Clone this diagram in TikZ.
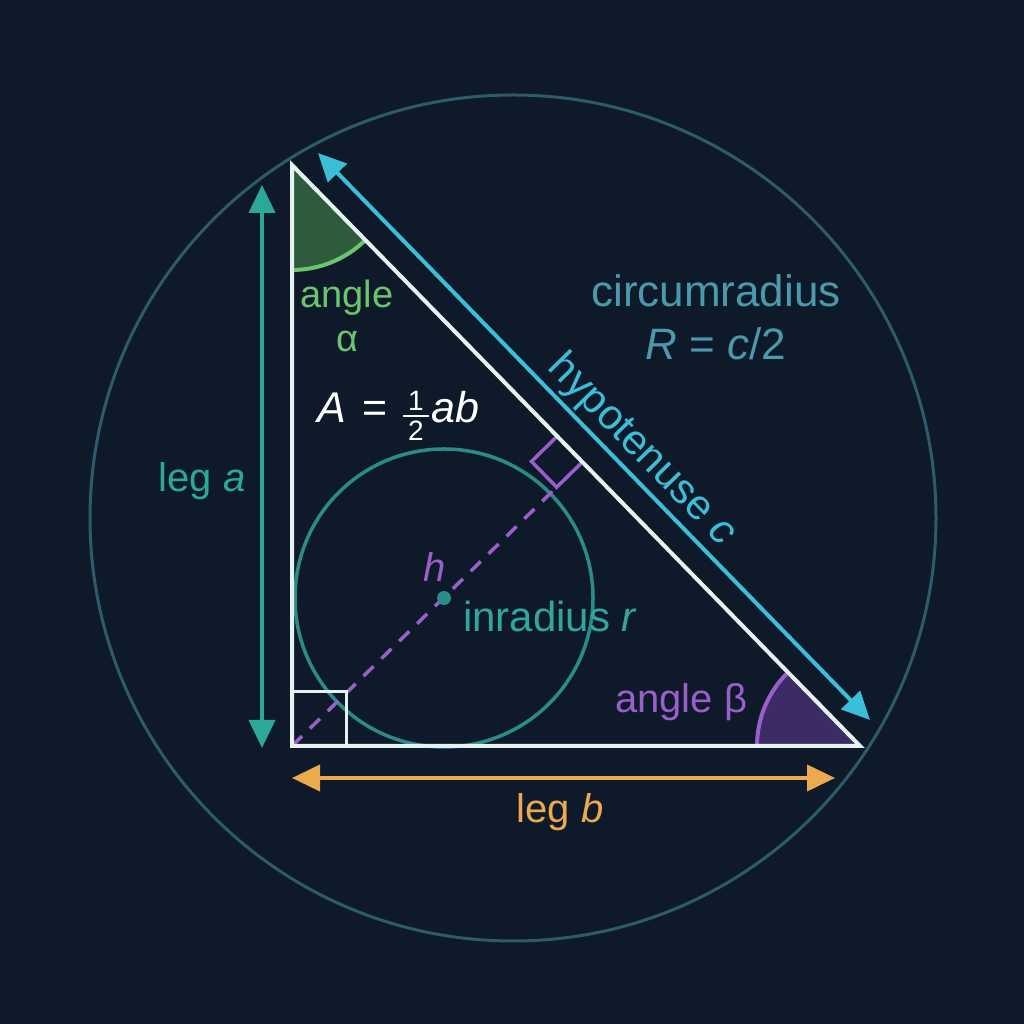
\documentclass[tikz,border=0pt]{standalone}
\usepackage{fontspec}
\setmainfont{Liberation Sans}
\usetikzlibrary{calc,arrows.meta}
\definecolor{bg}{HTML}{0E1A2A}
\definecolor{circ}{HTML}{2E5A6A}
\definecolor{tri}{HTML}{E6F2F0}
\definecolor{tealc}{HTML}{2BA898}
\definecolor{cyanc}{HTML}{3BBFD8}
\definecolor{orangec}{HTML}{EBAA4E}
\definecolor{greenfill}{HTML}{2E5B3C}
\definecolor{greenline}{HTML}{6CC46C}
\definecolor{purplefill}{HTML}{3D2B66}
\definecolor{purpleline}{HTML}{9B5FCB}
\definecolor{incirc}{HTML}{2A8C88}
\definecolor{circtext}{HTML}{4A9AAB}
\definecolor{intext}{HTML}{33A59B}
\begin{document}
\begin{tikzpicture}[x=1pt,y=1pt,
  lbl/.style={inner sep=0pt, font=\fontsize{40}{40}\selectfont},
  dimarrow/.style={line width=4pt, {Triangle[length=28pt,width=26pt]}-{Triangle[length=28pt,width=26pt]}},
  edge/.style={draw=tri, line width=4pt, line join=miter},
  anglearc/.style={line width=4pt}
]
\useasboundingbox (0,0) rectangle (1024,1024);
\fill[bg] (0,0) rectangle (1024,1024);

% coordinates
\coordinate (O) at (513,506);
\coordinate (T) at (292,859);
\coordinate (C) at (292,278);
\coordinate (B) at (860,278);
\coordinate (I) at (444,426);
\coordinate (F) at ($(T)!(C)!(B)$);
\coordinate (M1) at ($(F)!36pt!(T)$);
\coordinate (M3) at ($(F)!36pt!(C)$);
\coordinate (M2) at ($(M1)+(M3)-(F)$);
\coordinate (Q1) at (346,278);
\coordinate (Q2) at (346,332);
\coordinate (Q3) at (292,332);
\coordinate (la1) at (262,839);
\coordinate (la2) at (262,276);
\coordinate (hc1) at (318,871);
\coordinate (hc2) at (870,304);
\coordinate (lb1) at (292,246);
\coordinate (lb2) at (835,246);

% circumcircle
\draw[circ, line width=3pt] (O) circle[radius=423pt];

% angle sectors
\fill[greenfill] (T) -- ++(-90:105pt) arc[start angle=-90,end angle=-45.65,radius=105pt] -- cycle;
\draw[greenline, anglearc] ($(T)+(-90:105pt)$) arc[start angle=-90,end angle=-45.65,radius=105pt];
\fill[purplefill] (B) -- ++(134.35:103pt) arc[start angle=134.35,end angle=180,radius=103pt] -- cycle;
\draw[purpleline, anglearc] ($(B)+(134.35:103pt)$) arc[start angle=134.35,end angle=180,radius=103pt];

% incircle
\draw[incirc, line width=3.5pt] (I) circle[radius=149pt];

% altitude
\draw[purpleline, line width=3.5pt, dash pattern=on 14pt off 11pt] (C) -- (M3);
\draw[purpleline, line width=3.5pt, line join=miter] (M1) -- (M2) -- (M3) -- (F);

% triangle
\draw[edge] (T) -- (C) -- (B) -- cycle;
\draw[draw=tri, line width=3pt] (Q3) -- (Q2) -- (Q1);

% incenter dot
\fill[incirc] (I) circle[radius=7pt];

% dimension arrows
\draw[tealc, dimarrow] (la1) -- (la2);
\draw[cyanc, dimarrow] (hc1) -- (hc2);
\draw[orangec, dimarrow] (lb1) -- (lb2);

% labels
\node[lbl, greenline, anchor=base, font=\fontsize{38}{38}\selectfont] (angA) at (347,716) {angle};
\node[lbl, greenline, anchor=base, font=\fontsize{38}{38}\selectfont] (alpha) at (347,672) {α};

\node[lbl, white, anchor=base west, font=\fontsize{43}{43}\selectfont] (areaA) at (317,601) {\itshape A};
\node[lbl, white, anchor=base, font=\fontsize{43}{43}\selectfont] (areaEq) at (375,601) {=};
\node[lbl, white, anchor=base, font=\fontsize{28}{28}\selectfont] (fr1) at (416,613) {1};
\node[lbl, white, anchor=base, font=\fontsize{28}{28}\selectfont] (fr2) at (416,583) {2};
\coordinate (bar1) at (403,608);
\coordinate (bar2) at (429,608);
\draw[white, line width=2.5pt] (bar1) -- (bar2);
\node[lbl, white, anchor=base west, font=\fontsize{43}{43}\selectfont] (areaab) at (431,601) {\itshape ab};

\node[lbl, tealc, anchor=base] (lega) at (202,532) {leg \textit{a}};
\node[lbl, orangec, anchor=base] (legb) at (560,201) {leg \textit{b}};

\node[lbl, circtext, anchor=base, font=\fontsize{44}{44}\selectfont] (circum) at (716,717) {circumradius};
\node[lbl, circtext, anchor=base, font=\fontsize{44}{44}\selectfont] (Rform) at (716,664) {\textit{R} = \textit{c}/2};

\node[lbl, cyanc, anchor=base, rotate=-45.65, font=\fontsize{42}{42}\selectfont] (hyp) at (634,566) {hypotenuse \textit{c}};

\node[lbl, purpleline, anchor=base, font=\fontsize{40}{40}\selectfont] (hlab) at (435,442) {\itshape h};
\node[lbl, intext, anchor=base west, font=\fontsize{42}{42}\selectfont] (inr) at (463,392) {inradius \textit{r}};
\node[lbl, purpleline, anchor=base west] (angB) at (615,311) {angle β};
\end{tikzpicture}
\end{document}
